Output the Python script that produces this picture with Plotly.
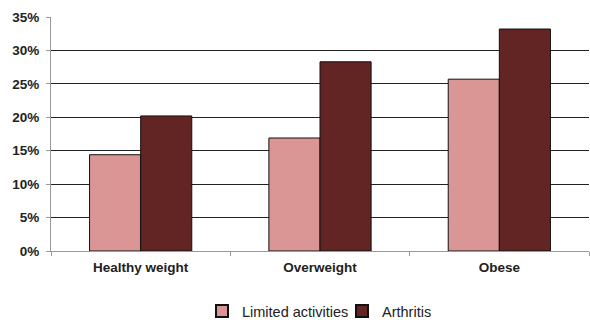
import plotly.graph_objects as go

categories = ["Healthy weight", "Overweight", "Obese"]
limited_activities = [0.144, 0.169, 0.257]
arthritis = [0.202, 0.283, 0.332]
y_ticks = [0, 0.05, 0.10, 0.15, 0.20, 0.25, 0.30, 0.35]
y_tick_labels = ["0%", "5%", "10%", "15%", "20%", "25%", "30%", "35%"]

fig = go.Figure()
fig.add_trace(go.Bar(name="Limited activities", x=categories, y=limited_activities,
                     marker=dict(color="#D99694", line=dict(color="#111111", width=1))))
fig.add_trace(go.Bar(name="Arthritis", x=categories, y=arthritis,
                     marker=dict(color="#632523", line=dict(color="#111111", width=1))))

fig.update_layout(
    width=590, height=320,
    margin=dict(l=51, r=1, t=17, b=69, autoexpand=False),
    paper_bgcolor="white", plot_bgcolor="white",
    barmode="group", bargap=0.43, bargroupgap=0,
    font=dict(family="Liberation Sans, Arial", color="#222222"),
    showlegend=True,
    legend=dict(orientation="h", x=202 / 590, xref="container", xanchor="left",
                y=-0.257, yref="paper", yanchor="middle",
                font=dict(size=14.5, color="#222222"), traceorder="normal",
                itemsizing="constant", itemwidth=30, tracegroupgap=0,
                entrywidth=95),
)
fig.update_yaxes(range=[0, 0.35], tickvals=y_ticks, ticktext=y_tick_labels,
                 showgrid=True, gridcolor="#222222", gridwidth=1,
                 showline=True, linecolor="#999999", linewidth=1,
                 ticks="outside", ticklen=4, tickcolor="#999999",
                 ticklabelstandoff=4,
                 tickfont=dict(size=13.5, weight="bold", color="#222222"),
                 zeroline=False)
fig.update_xaxes(showline=True, linecolor="#999999", linewidth=1,
                 ticks="outside", ticklen=4, tickcolor="#999999",
                 tickson="boundaries", ticklabelstandoff=4,
                 tickfont=dict(size=13.5, weight="bold", color="#222222"))

fig.write_html("out.html")
